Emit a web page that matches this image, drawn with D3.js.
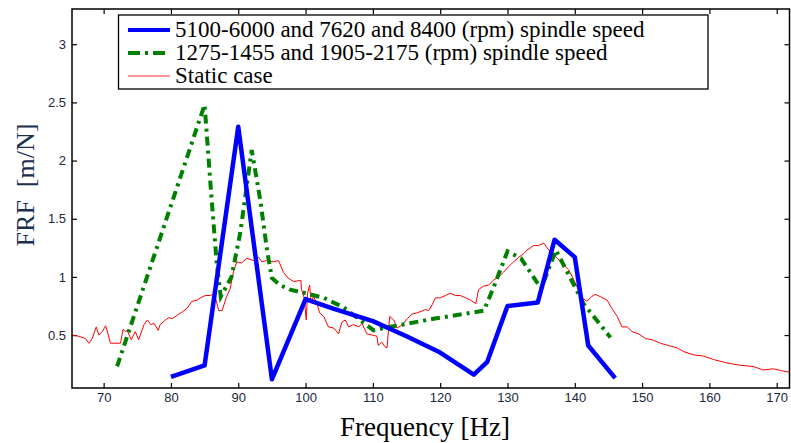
<!DOCTYPE html>
<html>
<head>
<meta charset="utf-8">
<script src="https://cdn.jsdelivr.net/npm/d3@7"></script>
<style>
  body { margin: 0; background: #fff; }
  svg { display: block; }
</style>
</head>
<body>
<svg id="chart"></svg>
<script>
// Data: [frequency Hz, FRF m/N]
const highSpeed = [
    [80, 0.14], [85, 0.24], [90, 2.29], [95, 0.12], [100, 0.81], [104, 0.73],
    [110, 0.62], [115, 0.49], [120, 0.35], [125, 0.16], [127, 0.27], [130, 0.75],
    [134.5, 0.78], [137, 1.32], [140, 1.17], [142, 0.41], [146, 0.13]
];
const lowSpeed = [
    [72, 0.23], [85, 2.48], [86, 1.7], [86.8, 1.12], [87.4, 0.83], [89, 1.0],
    [90.3, 1.38], [92, 2.09], [93.3, 1.65], [94.3, 1.22], [95, 0.99], [96.2, 0.93],
    [97.7, 0.89], [100, 0.86], [102.7, 0.82], [105.6, 0.74], [108.1, 0.63],
    [110.1, 0.54], [111.6, 0.56], [119, 0.64], [126.5, 0.71], [128, 0.92],
    [130, 1.22], [132, 1.16], [135, 0.9], [137.2, 1.23], [141.3, 0.77], [145.3, 0.48]
];
const staticCase = [
    [65.3, 0.5], [66.3, 0.49], [67.3, 0.47], [67.8, 0.43], [68.3, 0.47], [68.9, 0.57],
    [69.3, 0.5], [69.8, 0.53], [70.3, 0.58], [70.7, 0.5], [71, 0.43], [71.8, 0.43],
    [72.5, 0.43], [72.9, 0.55], [73.2, 0.53], [73.5, 0.54], [74.1, 0.46], [74.7, 0.53],
    [75.2, 0.46], [76, 0.59], [76.5, 0.63], [77, 0.59], [77.5, 0.6], [78.1, 0.54],
    [78.4, 0.59], [79.2, 0.63], [79.7, 0.65], [80.2, 0.64], [80.9, 0.67], [81.7, 0.7],
    [82.4, 0.73], [83.1, 0.79], [83.9, 0.8], [84.4, 0.82], [85.1, 0.84], [85.9, 0.84],
    [86.4, 0.86], [86.7, 0.8], [87.1, 0.71], [87.6, 0.71], [88.2, 0.82], [88.8, 0.9],
    [89.3, 1.05], [89.8, 1.13], [90.5, 1.12], [91.3, 1.16], [92.3, 1.14], [93, 1.17],
    [93.5, 1.13], [94.2, 1.14], [95.2, 1.13], [96, 1.14], [96.7, 1.04], [97.4, 0.99],
    [98.2, 0.96], [99.3, 0.97], [99.4, 0.89], [99.8, 0.82], [100.1, 0.63], [100.3, 0.86],
    [100.6, 0.93], [100.8, 0.79], [101.2, 0.83], [101.7, 0.77], [102.1, 0.69],
    [102.7, 0.66], [103.4, 0.57], [104.2, 0.56], [104.9, 0.51], [105.4, 0.61],
    [105.9, 0.63], [106.4, 0.57], [107.1, 0.59], [107.9, 0.57], [108.4, 0.6],
    [109.1, 0.51], [109.9, 0.5], [110.6, 0.49], [110.8, 0.41], [111.3, 0.44],
    [111.8, 0.4], [112.1, 0.39], [112.5, 0.66], [113.1, 0.63], [113.6, 0.56],
    [114.4, 0.59], [115.1, 0.64], [115.8, 0.68], [116.5, 0.69], [117, 0.7],
    [117.8, 0.72], [118.3, 0.71], [118.8, 0.76], [119.3, 0.82], [120, 0.82],
    [120.8, 0.84], [121.5, 0.86], [122.3, 0.84], [123, 0.84], [123.8, 0.82],
    [124.5, 0.8], [125.3, 0.77], [125.7, 0.89], [126.4, 0.92], [127.2, 0.93],
    [127.9, 0.97], [128.7, 1.0], [129.4, 1.04], [130.2, 1.09], [130.9, 1.13],
    [131.7, 1.17], [132.4, 1.2], [132.9, 1.23], [133.4, 1.25], [133.9, 1.27],
    [134.6, 1.27], [135.4, 1.29], [135.9, 1.25], [136.6, 1.2], [137.4, 1.16],
    [138.4, 1.1], [139.1, 1.06], [139.9, 0.97], [140.6, 0.88], [141.1, 0.82],
    [141.8, 0.79], [142.5, 0.83], [143, 0.85], [143.8, 0.83], [144.8, 0.8],
    [145.5, 0.73], [146.3, 0.66], [147, 0.57], [147.8, 0.57], [148.5, 0.53],
    [149.5, 0.51], [150.5, 0.47], [151.5, 0.46], [152.7, 0.43], [153.9, 0.41],
    [155.2, 0.39], [156.1, 0.36], [157.6, 0.33], [159.1, 0.32], [160.6, 0.29],
    [162.6, 0.26], [164.6, 0.24], [166.5, 0.23], [168, 0.2], [169.5, 0.21],
    [171, 0.19], [172, 0.18]
];

const xTicks = [70, 80, 90, 100, 110, 120, 130, 140, 150, 160, 170];
const yTicks = [0.5, 1, 1.5, 2, 2.5, 3];
const yTickLabels = ['0.5', '1', '1.5', '2', '2.5', '3'];
const legendLabels = [
    '5100-6000 and 7620 and 8400 (rpm) spindle speed',
    '1275-1455 and 1905-2175 (rpm) spindle speed',
    'Static case'
];

const width = 791, height = 443;
const margin = {top: 9, right: 1.5, bottom: 55, left: 72};

const svg = d3.select('#chart')
    .attr('width', width)
    .attr('height', height);

const x = d3.scaleLinear()
    .domain([65.3, 171.9])
    .range([margin.left, width - margin.right]);
const y = d3.scaleLinear()
    .domain([0.045, 3.303])
    .range([height - margin.bottom, margin.top]);

svg.append('clipPath').attr('id', 'plotclip')
    .append('rect')
    .attr('x', margin.left).attr('y', margin.top)
    .attr('width', width - margin.left - margin.right)
    .attr('height', height - margin.top - margin.bottom);

const tickFont = g => g.selectAll('text')
    .attr('font-family', '"Liberation Sans", Arial, sans-serif')
    .attr('font-size', 13)
    .attr('fill', '#1a2840');

// axes, ticks pointing inwards
svg.append('g')
    .attr('transform', `translate(0,${height - margin.bottom})`)
    .call(d3.axisBottom(x).tickValues(xTicks).tickSizeInner(-5).tickSizeOuter(0).tickPadding(5))
    .call(g => g.select('.domain').remove())
    .call(tickFont);
svg.append('g')
    .attr('transform', `translate(0,${margin.top})`)
    .call(d3.axisTop(x).tickValues(xTicks).tickSizeInner(-5).tickSizeOuter(0).tickFormat(''))
    .call(g => g.select('.domain').remove());
svg.append('g')
    .attr('transform', `translate(${margin.left},0)`)
    .call(d3.axisLeft(y).tickValues(yTicks).tickSizeInner(-5).tickSizeOuter(0).tickPadding(6)
        .tickFormat((d, i) => yTickLabels[i]))
    .call(g => g.select('.domain').remove())
    .call(tickFont);
svg.append('g')
    .attr('transform', `translate(${width - margin.right},0)`)
    .call(d3.axisRight(y).tickValues(yTicks).tickSizeInner(-5).tickSizeOuter(0).tickFormat(''))
    .call(g => g.select('.domain').remove());

svg.selectAll('.tick line').attr('stroke', '#000').attr('stroke-width', 1.2);

// curves
const line = d3.line().x(d => x(d[0])).y(d => y(d[1]));
const plot = svg.append('g').attr('clip-path', 'url(#plotclip)');

plot.append('path').datum(staticCase)
    .attr('d', line).attr('fill', 'none')
    .attr('stroke', '#ff0000').attr('stroke-width', 1);
plot.append('path').datum(lowSpeed)
    .attr('d', line).attr('fill', 'none')
    .attr('stroke', '#008000').attr('stroke-width', 4)
    .attr('stroke-dasharray', '9,5,3,5');
plot.append('path').datum(highSpeed)
    .attr('d', line).attr('fill', 'none')
    .attr('stroke', '#0000ff').attr('stroke-width', 4.5)
    .attr('stroke-linejoin', 'round');

// frame
svg.append('rect')
    .attr('x', margin.left).attr('y', margin.top)
    .attr('width', width - margin.left - margin.right)
    .attr('height', height - margin.top - margin.bottom)
    .attr('fill', 'none').attr('stroke', '#000').attr('stroke-width', 1.5);

// axis labels
svg.append('text')
    .attr('x', 425).attr('y', 436)
    .attr('text-anchor', 'middle')
    .attr('font-family', '"Liberation Serif", "Times New Roman", serif')
    .attr('font-size', 27)
    .attr('fill', '#000')
    .text('Frequency [Hz]');
svg.append('text')
    .attr('transform', 'translate(34,185) rotate(-90)')
    .attr('text-anchor', 'middle')
    .attr('font-family', '"Liberation Serif", "Times New Roman", serif')
    .attr('font-size', 26)
    .attr('fill', '#1b2f4e')
    .style('white-space', 'pre')
    .text('FRF  [m/N]');

// legend
const legend = svg.append('g');
legend.append('rect')
    .attr('x', 118.5).attr('y', 15)
    .attr('width', 589.5).attr('height', 74)
    .attr('fill', '#fff').attr('stroke', '#000').attr('stroke-width', 1.3);

const legendStyles = [
    {stroke: '#0000ff', width: 4, dash: null},
    {stroke: '#008000', width: 4, dash: '12,5,3,5'},
    {stroke: '#ff3030', width: 1.2, dash: null}
];
const rowY = [30, 53, 76];
legendLabels.forEach((label, i) => {
    legend.append('line')
        .attr('x1', 128).attr('x2', 170)
        .attr('y1', rowY[i]).attr('y2', rowY[i])
        .attr('stroke', legendStyles[i].stroke)
        .attr('stroke-width', legendStyles[i].width)
        .attr('stroke-dasharray', legendStyles[i].dash);
    legend.append('text')
        .attr('x', 175).attr('y', rowY[i] + 7)
        .attr('font-family', '"Liberation Serif", "Times New Roman", serif')
        .attr('font-size', 23)
        .attr('fill', '#000')
        .text(label);
});
</script>
</body>
</html>
